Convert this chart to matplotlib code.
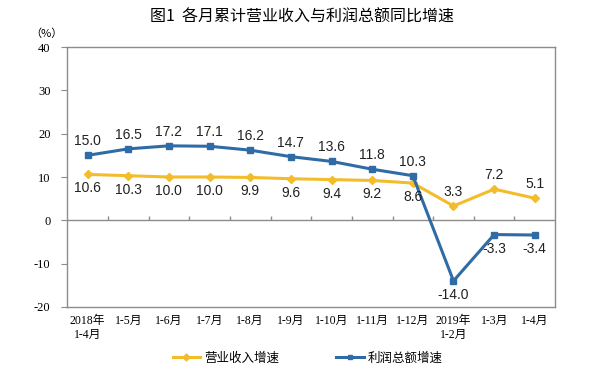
import matplotlib
matplotlib.use("Agg")
import matplotlib.pyplot as plt
from matplotlib.lines import Line2D

plt.rcParams['font.family'] = ['Noto Sans CJK SC', 'DejaVu Sans']

categories = ["2018年\n1-4月", "1-5月", "1-6月", "1-7月", "1-8月", "1-9月",
              "1-10月", "1-11月", "1-12月", "2019年\n1-2月", "1-3月", "1-4月"]
revenue = [10.6, 10.3, 10.0, 10.0, 9.9, 9.6, 9.4, 9.2, 8.6, 3.3, 7.2, 5.1]
profit = [15.0, 16.5, 17.2, 17.1, 16.2, 14.7, 13.6, 11.8, 10.3, -14.0, -3.3, -3.4]
yticks = [-20, -10, 0, 10, 20, 30, 40]

rev_labels_above = [False]*9 + [True, True, True]
prof_labels_above = [True]*9 + [False, False, False]

yellow = "#F2BC2B"
blue = "#2F6CA6"
frame = "#8C8C8C"

fig = plt.figure(figsize=(5.95, 3.77), dpi=100)
ax = fig.add_axes([0.113, 0.186, 0.820, 0.689])

x = list(range(len(categories)))
ax.plot(x, revenue, color=yellow, lw=2.2, marker='D', ms=4.5, zorder=3)
ax.plot(x, profit, color=blue, lw=2.2, marker='s', ms=4.5, zorder=3)

num_font = ['Liberation Sans', 'DejaVu Sans']
def label(i, v, above):
    if above:
        ax.annotate(f"{v:.1f}", (i, v), xytext=(0, 5), textcoords='offset points',
                    ha='center', va='bottom', fontsize=10, family=num_font, color='#222222')
    else:
        ax.annotate(f"{v:.1f}", (i, v), xytext=(0, -5), textcoords='offset points',
                    ha='center', va='top', fontsize=10, family=num_font, color='#222222')

for i, v in enumerate(revenue):
    label(i, v, rev_labels_above[i])
for i, v in enumerate(profit):
    label(i, v, prof_labels_above[i])

ax.set_xlim(-0.5, len(categories) - 0.5)
ax.set_ylim(yticks[0], yticks[-1])
ax.set_yticks(yticks)
ax.set_yticklabels([str(t) for t in yticks], family=['Liberation Serif', 'DejaVu Serif'], fontsize=9)
ax.set_xticks(x)
ax.set_xticklabels(categories, family=['Liberation Serif', 'Noto Sans CJK SC', 'DejaVu Sans'], fontsize=8.5,
                   linespacing=1.15)
ax.tick_params(axis='x', length=0, pad=6)
ax.tick_params(axis='y', length=4, direction='out', color=frame, pad=8)

for s in ax.spines.values():
    s.set_color(frame)
    s.set_linewidth(1.0)

# zero line with tick marks at category boundaries
ax.axhline(0, color=frame, lw=1.0, zorder=1)
bounds = [i + 0.5 for i in range(len(categories) - 1)]
ax.vlines(bounds, 0, 1.0, color=frame, lw=1.0, zorder=1)

fig.text(0.508, 0.955, "图1  各月累计营业收入与利润总额同比增速", ha='center', va='center', fontsize=11.5)
fig.text(0.078, 0.91, "（%）", ha='center', va='center', fontsize=8)

handles = [Line2D([0], [0], color=yellow, lw=2.2, marker='D', ms=3.5),
           Line2D([0], [0], color=blue, lw=2.2, marker='s', ms=3.5)]
fig.legend(handles, ["营业收入增速", "利润总额增速"], loc='center', bbox_to_anchor=(0.517, 0.05),
           ncol=2, frameon=False, fontsize=9, handlelength=2.2, handletextpad=0.3, columnspacing=4.6)

fig.savefig("out.png", dpi=100)
